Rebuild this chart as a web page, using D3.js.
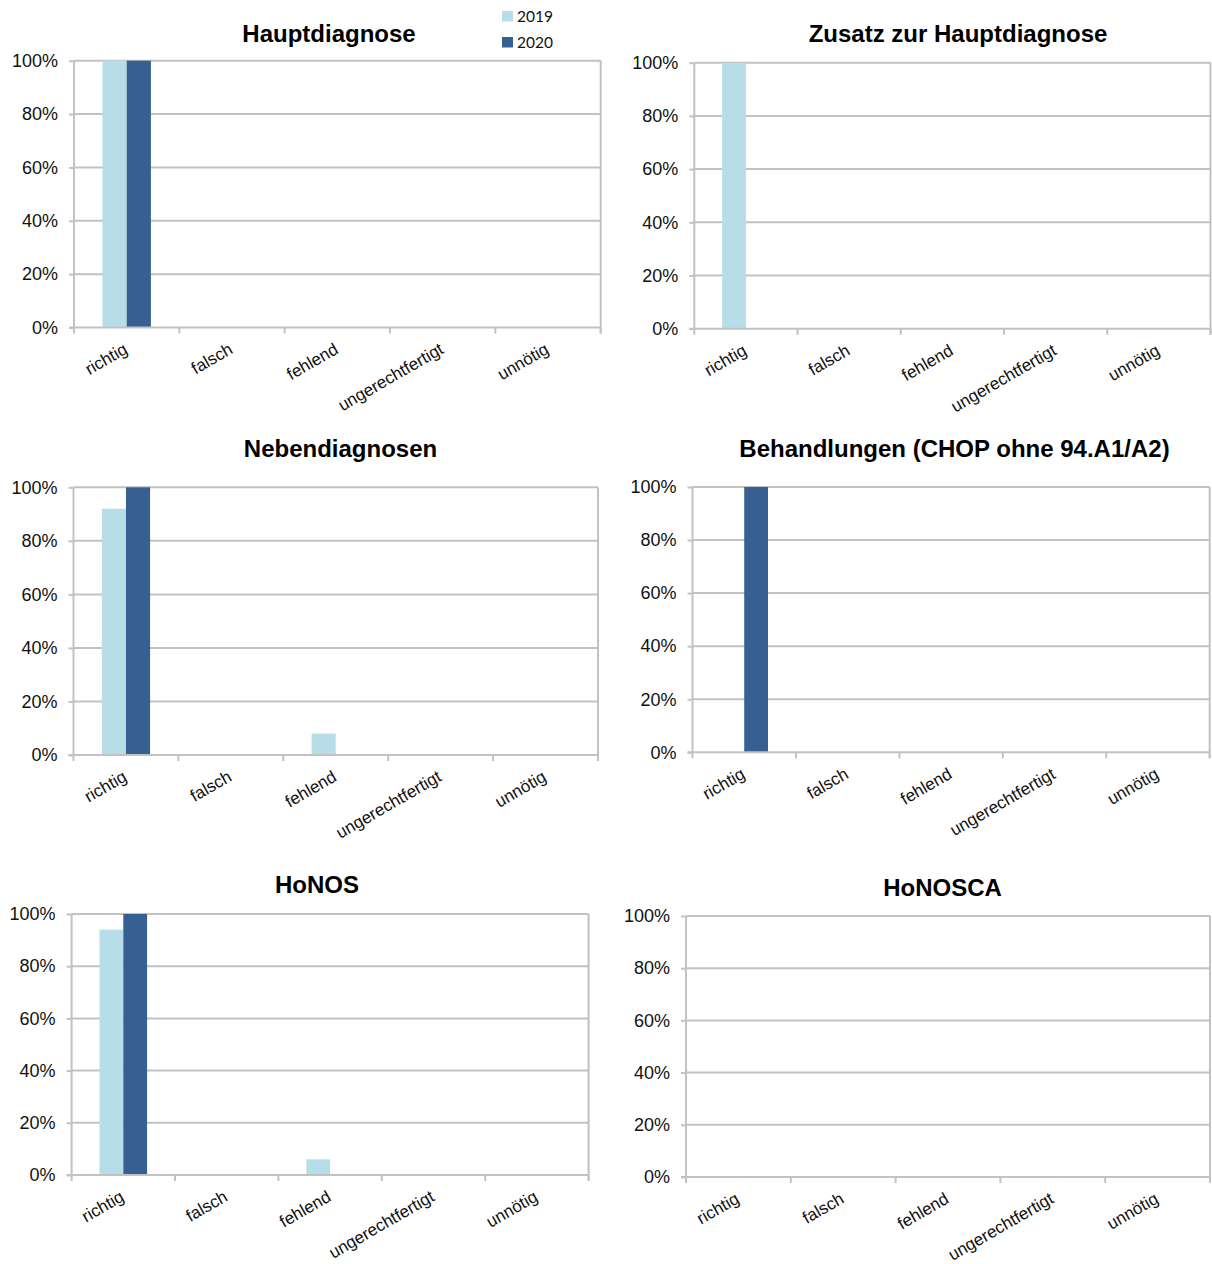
<!DOCTYPE html>
<html>
<head>
<meta charset="utf-8">
<script src="https://cdn.jsdelivr.net/npm/d3@7"></script>
<style>
  body { margin: 0; background: #fff; }
  svg { display: block; }
</style>
</head>
<body>
<svg id="chart" width="1212" height="1264"></svg>
<script>
// ---- data ----
const categories = ["richtig", "falsch", "fehlend", "ungerechtfertigt", "unnötig"];
const years = ["2019", "2020"];
const yTicks = [0, 0.2, 0.4, 0.6, 0.8, 1.0];
const panelTitles = [
  "Hauptdiagnose",
  "Zusatz zur Hauptdiagnose",
  "Nebendiagnosen",
  "Behandlungen (CHOP ohne 94.A1/A2)",
  "HoNOS",
  "HoNOSCA"
];
// share per category, one row per panel
const values2019 = [
  [1.00, 0, 0,    0, 0],
  [1.00, 0, 0,    0, 0],
  [0.92, 0, 0.08, 0, 0],
  [0,    0, 0,    0, 0],
  [0.94, 0, 0.06, 0, 0],
  [0,    0, 0,    0, 0]
];
const values2020 = [
  [1.00, 0, 0, 0, 0],
  [0,    0, 0, 0, 0],
  [1.00, 0, 0, 0, 0],
  [1.00, 0, 0, 0, 0],
  [1.00, 0, 0, 0, 0],
  [0,    0, 0, 0, 0]
];

// ---- layout ----
const colors = { "2019": "#B7DDE8", "2020": "#376092" };
const gridColor = "#C2C2C2";
const frames = [
  { l: 74,    t: 60.7,  r: 600.7,  b: 327.5,  tx: 329,   ty: 42 },
  { l: 694.3, t: 62.7,  r: 1210.5, b: 328.7,  tx: 958,   ty: 42 },
  { l: 73.5,  t: 487.3, r: 598,    b: 755,    tx: 340.5, ty: 457 },
  { l: 692.5, t: 487,   r: 1209.7, b: 752.3,  tx: 954.5, ty: 457 },
  { l: 71.6,  t: 914,   r: 588.6,  b: 1175,   tx: 317,   ty: 893 },
  { l: 686,   t: 916,   r: 1210,   b: 1177,   tx: 942.5, ty: 896 }
];

const svg = d3.select("#chart");
const textFont = "'Liberation Sans', Arial, sans-serif";
const pct = d3.format(".0%");

frames.forEach((f, i) => {
  const g = svg.append("g");
  const x = d3.scaleBand().domain(categories).range([f.l, f.r]).padding(0);
  const y = d3.scaleLinear().domain([0, 1]).range([f.b, f.t]);
  const bw = x.bandwidth();
  const barW = bw * 0.23;
  const x1 = d3.scaleBand().domain(years)
    .range([(bw - 2 * barW) / 2, (bw + 2 * barW) / 2]).padding(0);

  // horizontal gridlines
  g.append("g").selectAll("line")
    .data(yTicks.filter(v => v > 0))
    .join("line")
    .attr("x1", f.l).attr("x2", f.r)
    .attr("y1", d => y(d)).attr("y2", d => y(d))
    .attr("stroke", gridColor).attr("stroke-width", 2);

  // right border of the plot area
  g.append("line")
    .attr("x1", f.r).attr("x2", f.r)
    .attr("y1", f.t).attr("y2", f.b + 6)
    .attr("stroke", gridColor).attr("stroke-width", 2);

  // bars
  const rows = categories.map((c, k) => ({
    cat: c,
    vals: [{ year: "2019", v: values2019[i][k] }, { year: "2020", v: values2020[i][k] }]
  }));
  g.append("g").selectAll("g")
    .data(rows)
    .join("g")
    .attr("transform", d => `translate(${x(d.cat)},0)`)
    .selectAll("rect")
    .data(d => d.vals.filter(e => e.v > 0))
    .join("rect")
    .attr("x", d => x1(d.year))
    .attr("width", x1.bandwidth())
    .attr("y", d => y(d.v))
    .attr("height", d => y(0) - y(d.v))
    .attr("fill", d => colors[d.year]);

  // y axis
  const yAxis = g.append("g")
    .attr("transform", `translate(${f.l},0)`)
    .call(d3.axisLeft(y).tickValues(yTicks).tickFormat(pct).tickSize(5).tickPadding(11));
  yAxis.select(".domain").attr("stroke", gridColor).attr("stroke-width", 2)
    .attr("d", `M0,${f.t}V${f.b}`);
  yAxis.selectAll(".tick line").attr("stroke", gridColor).attr("stroke-width", 2);
  yAxis.selectAll(".tick text")
    .attr("fill", "#111").style("font-family", textFont).style("font-size", "18px");

  // x axis line and category boundary ticks
  g.append("line")
    .attr("x1", f.l - 5).attr("x2", f.r)
    .attr("y1", f.b).attr("y2", f.b)
    .attr("stroke", gridColor).attr("stroke-width", 2);
  const bounds = categories.map(c => x(c)).concat([f.r]);
  g.append("g").selectAll("line")
    .data(bounds)
    .join("line")
    .attr("x1", d => d).attr("x2", d => d)
    .attr("y1", f.b).attr("y2", f.b + 6)
    .attr("stroke", gridColor).attr("stroke-width", 2);

  // rotated category labels
  g.append("g").selectAll("text")
    .data(categories)
    .join("text")
    .attr("transform", d => `translate(${x(d) + bw / 2 + 2},${f.b + 25}) rotate(-30)`)
    .attr("text-anchor", "end")
    .attr("fill", "#111")
    .style("font-family", textFont)
    .style("font-size", "17px")
    .text(d => d);

  // panel title
  g.append("text")
    .attr("x", f.tx).attr("y", f.ty)
    .attr("text-anchor", "middle")
    .attr("fill", "#000")
    .style("font-family", textFont)
    .style("font-size", "24px")
    .style("font-weight", "bold")
    .text(panelTitles[i]);
});

// legend (shown once, top right of the first panel)
const legend = svg.append("g").attr("transform", "translate(502,11)");
legend.selectAll("g")
  .data(years)
  .join("g")
  .attr("transform", (d, k) => `translate(0,${k * 26})`)
  .call(s => {
    s.append("rect").attr("width", 11).attr("height", 10.5).attr("fill", d => colors[d]);
    s.append("text").attr("x", 15).attr("y", 11)
      .attr("fill", "#111")
      .style("font-family", "Lato, 'Open Sans', sans-serif")
      .style("font-size", "15.5px")
      .text(d => d);
  });
</script>
</body>
</html>
